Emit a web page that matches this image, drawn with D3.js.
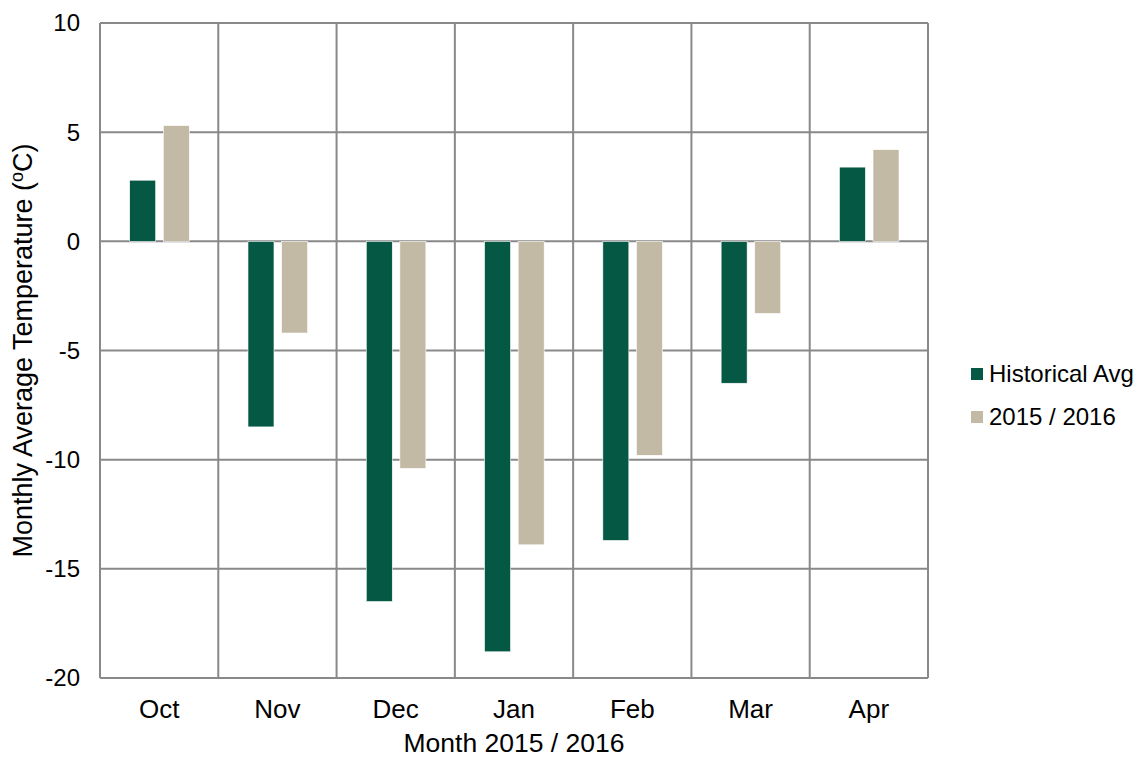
<!DOCTYPE html>
<head>
<meta charset="utf-8">
<style>
body { margin: 0; background: #fff; }
text { font-family: "Liberation Sans", Arial, sans-serif; fill: #000; }
</style>
</head>
<body>
<script src="https://cdn.jsdelivr.net/npm/d3@7"></script>
<script>
var months = ["Oct", "Nov", "Dec", "Jan", "Feb", "Mar", "Apr"];
var seriesNames = ["Historical Avg", "2015 / 2016"];
var historical = [2.8, -8.5, -16.5, -18.8, -13.7, -6.5, 3.4];
var season = [5.3, -4.2, -10.4, -13.9, -9.8, -3.3, 4.2];
var yTicks = [10, 5, 0, -5, -10, -15, -20];
var colors = ["#055944", "#c3baa6"];

var width = 1138, height = 759;
var pLeft = 100, pRight = 928, pTop = 23, pBottom = 678;

var svg = d3.select("body").append("svg")
    .attr("width", width)
    .attr("height", height);

var x = d3.scaleBand().domain(months).range([pLeft, pRight]);
var y = d3.scaleLinear().domain([-20, 10]).range([pBottom, pTop]);

// gridlines
var grid = svg.append("g").attr("stroke", "#898989").attr("stroke-width", 2);
grid.selectAll("line.h").data(yTicks).enter().append("line")
    .attr("x1", pLeft).attr("x2", pRight)
    .attr("y1", function(d) { return y(d); })
    .attr("y2", function(d) { return y(d); });
grid.selectAll("line.v").data(d3.range(months.length + 1)).enter().append("line")
    .attr("x1", function(i) { return pLeft + i * x.bandwidth(); })
    .attr("x2", function(i) { return pLeft + i * x.bandwidth(); })
    .attr("y1", pTop).attr("y2", pBottom);

// bars
var data = months.map(function(m, i) { return {m: m, vals: [historical[i], season[i]]}; });
var barW = 26, gap = 7.6, offset = 29.7;
var groups = svg.selectAll("g.month").data(data).enter().append("g").attr("class", "month");
groups.selectAll("rect").data(function(d) {
    return d.vals.map(function(v, k) { return {m: d.m, v: v, k: k}; });
  }).enter().append("rect")
    .attr("x", function(d) { return x(d.m) + offset + d.k * (barW + gap); })
    .attr("width", barW)
    .attr("y", function(d) { return Math.min(y(d.v), y(0)); })
    .attr("height", function(d) { return Math.abs(y(d.v) - y(0)); })
    .attr("fill", function(d) { return colors[d.k]; })
    .attr("stroke", "#fff")
    .attr("stroke-width", 0.6);

// y tick labels
svg.append("g").selectAll("text").data(yTicks).enter().append("text")
    .attr("x", 80)
    .attr("y", function(d) { return y(d); })
    .attr("dy", "0.35em")
    .attr("text-anchor", "end")
    .style("font-size", "24px")
    .text(function(d) { return d; });

// x tick labels
svg.append("g").selectAll("text").data(months).enter().append("text")
    .attr("x", function(d) { return x(d) + x.bandwidth() / 2; })
    .attr("y", 718)
    .attr("text-anchor", "middle")
    .style("font-size", "26px")
    .text(function(d) { return d; });

// axis titles
svg.append("text")
    .attr("x", (pLeft + pRight) / 2)
    .attr("y", 752)
    .attr("text-anchor", "middle")
    .style("font-size", "26.5px")
    .text("Month 2015 / 2016");

var yt = svg.append("text")
    .attr("transform", "translate(32," + ((pTop + pBottom) / 2) + ") rotate(-90)")
    .attr("text-anchor", "middle")
    .style("font-size", "27px");
yt.append("tspan").text("Monthly Average Temperature (");
yt.append("tspan").text("o").style("font-size", "18px").attr("dy", "-9");
yt.append("tspan").text("C)").attr("dy", "9");

// legend
var legend = svg.append("g").selectAll("g").data(seriesNames).enter().append("g")
    .attr("transform", function(d, i) { return "translate(971," + (368 + i * 43) + ")"; });
legend.append("rect").attr("width", 12).attr("height", 12)
    .attr("fill", function(d, i) { return colors[i]; });
legend.append("text").attr("x", 18).attr("y", 14)
    .style("font-size", "24px")
    .text(function(d) { return d; });
</script>
</body>
</html>
